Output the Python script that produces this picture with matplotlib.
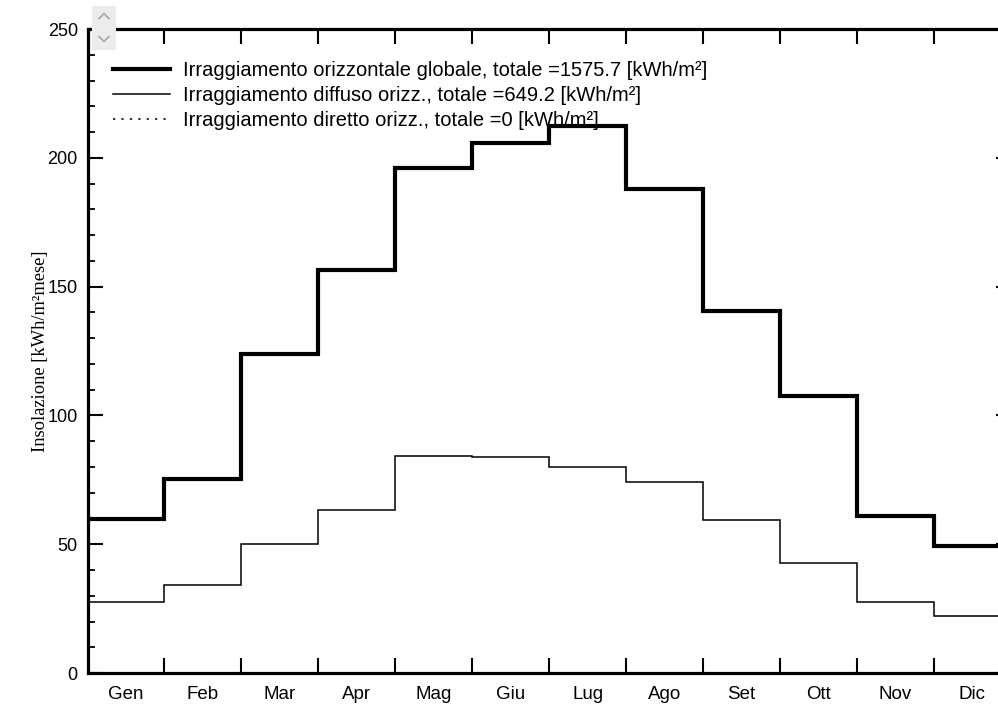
import matplotlib.pyplot as plt
import numpy as np
from matplotlib.patches import Rectangle
from matplotlib.lines import Line2D
from matplotlib.ticker import MultipleLocator

# mesi e valori mensili [kWh/m² mese]
mesi = ['Gen', 'Feb', 'Mar', 'Apr', 'Mag', 'Giu', 'Lug', 'Ago', 'Set', 'Ott', 'Nov', 'Dic']
globale = [59.6, 75.4, 123.8, 156.4, 196.2, 205.8, 212.5, 187.7, 140.5, 107.7, 60.9, 49.2]
diffuso = [27.5, 34.0, 50.1, 63.1, 84.3, 83.8, 80.0, 74.1, 59.4, 42.9, 27.5, 22.3]
diretto = [0, 0, 0, 0, 0, 0, 0, 0, 0, 0, 0, 0]

etichette = [
    'Irraggiamento orizzontale globale, totale =1575.7 [kWh/m²]',
    'Irraggiamento diffuso orizz., totale =649.2 [kWh/m²]',
    'Irraggiamento diretto orizz., totale =0 [kWh/m²]',
]

plt.rcParams['font.family'] = ['Liberation Sans', 'DejaVu Sans']

fig = plt.figure(figsize=(9.98, 7.04), dpi=100)
ax = fig.add_axes([0.0877, 0.044, 0.9253, 0.9148])

bordi = np.arange(len(mesi) + 1)
ax.stairs(globale, bordi, baseline=None, color='black', linewidth=3.0, label=etichette[0])
ax.stairs(diffuso, bordi, baseline=None, color='black', linewidth=1.1, label=etichette[1])
ax.stairs(diretto, bordi, baseline=None, color='black', linewidth=1.1,
          linestyle=(0, (1.5, 4)), label=etichette[2])

ax.set_xlim(0, 12)
ax.set_ylim(0, 250)

# tacche sui bordi dei mesi, nomi al centro
ax.set_xticks(bordi[1:-1])
ax.set_xticklabels([])
ax.set_xticks(np.arange(12) + 0.5, minor=True)
ax.set_xticklabels(mesi, minor=True, fontsize=13.5)
ax.tick_params(axis='x', which='minor', length=0, pad=9)
ax.tick_params(axis='x', which='major', direction='in', length=11, width=1.5,
               top=True, bottom=True)

ax.yaxis.set_major_locator(MultipleLocator(50))
ax.yaxis.set_minor_locator(MultipleLocator(10))
ax.tick_params(axis='y', which='major', direction='in', length=11, width=1.5,
               left=True, right=True, labelsize=13, pad=7)
ax.tick_params(axis='y', which='minor', direction='in', length=5, width=1.3,
               left=True, right=True)

for s in ax.spines.values():
    s.set_linewidth(2.3)

ax.set_ylabel('Insolazione [kWh/m²mese]', family=['Liberation Serif', 'DejaVu Serif'],
              fontsize=13.3)
ax.yaxis.set_label_coords(-0.0417, 0.5)

ax.legend(loc='upper left', bbox_to_anchor=(0.0276, 0.950), frameon=False,
          fontsize=14.5, handlelength=2.84, handletextpad=0.65, labelspacing=0.3,
          borderaxespad=0, borderpad=0)

# piccolo selettore a frecce in alto a sinistra
fig.patches.append(Rectangle((92 / 998, 1 - 50 / 704), 24 / 998, 44 / 704,
                             transform=fig.transFigure, facecolor='#ececec',
                             edgecolor='none', zorder=5))
for yc, d in [(16, 1), (39, -1)]:
    xs = np.array([99, 104, 109]) / 998
    ys = 1 - np.array([yc + 2.5 * d, yc - 2.5 * d, yc + 2.5 * d]) / 704
    fig.lines.append(Line2D(xs, ys, transform=fig.transFigure, color='#a8a8a8',
                            linewidth=1.2, zorder=6))

fig.savefig('out.png', dpi=100)
